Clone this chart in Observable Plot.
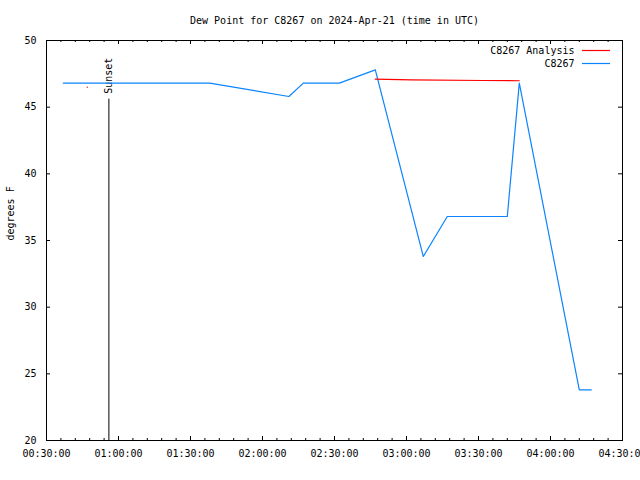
<!DOCTYPE html>
<html>
<head>
<meta charset="utf-8">
<script src="https://cdn.jsdelivr.net/npm/d3@7"></script>
<script src="https://cdn.jsdelivr.net/npm/@observablehq/plot@0.6"></script>
<style>
  html, body { margin: 0; padding: 0; background: #fff; }
  svg { display: block; }
</style>
</head>
<body>
<div id="chart"></div>
<script>
// ---- data ----
const titleText = "Dew Point for C8267 on 2024-Apr-21 (time in UTC)";
const yLabel = "degrees F";
const day = "2024-04-21";

const obsTimes = ["00:37", "01:38", "02:11", "02:17", "02:32", "02:47", "03:07", "03:17", "03:42", "03:47", "04:12", "04:17"];
const obsValues = [46.8, 46.8, 45.8, 46.8, 46.8, 47.8, 33.8, 36.8, 36.8, 46.8, 23.8, 23.8];

const anaTimes = ["02:47", "03:02", "03:32", "03:47"];
const anaValues = [47.1, 47.05, 47.0, 46.98];

const anaDotTimes = ["00:47"];
const anaDotValues = [46.5];

const sunsetTime = ["00:56"];
const sunsetTop = [45.6];
const sunsetTextY = [46.0];

const xDomain = ["00:30", "04:30"];
const yDomain = [20, 50];
const yTicks = [20, 25, 30, 35, 40, 45, 50];
const seriesNames = ["C8267 Analysis", "C8267"];
const seriesColors = ["#ff0000", "#0a84ff"];

// ---- build ----
const t = s => new Date(`${day}T${s}:00Z`);
const obs = obsTimes.map((s, i) => ({time: t(s), value: obsValues[i]}));
const ana = anaTimes.map((s, i) => ({time: t(s), value: anaValues[i]}));
const anaDot = anaDotTimes.map((s, i) => ({time: t(s), value: anaDotValues[i]}));
const sunset = sunsetTime.map((s, i) => ({time: t(s), top: sunsetTop[i], ty: sunsetTextY[i]}));
const x0 = t(xDomain[0]), x1 = t(xDomain[1]);
const majorX = d3.utcMinute.every(30).range(x0, new Date(+x1 + 1));
const minorX = d3.utcMinute.every(6).range(x0, new Date(+x1 + 1));

const W = 640, H = 480, mL = 46, mR = 18, mT = 40, mB = 40;
const fw = W - mL - mR, fh = H - mT - mB;

const svg = Plot.plot({
  width: W, height: H,
  marginLeft: mL, marginRight: mR, marginTop: mT, marginBottom: mB,
  style: {fontFamily: "DejaVu Sans Mono", fontSize: "10px", background: "#fff", color: "#000"},
  x: {type: "utc", domain: [x0, x1], label: null},
  y: {domain: yDomain, label: null},
  marks: [
    // tick marks (inward, gnuplot style)
    Plot.tickX(minorX, {x: d => d, insetTop: fh - 2, stroke: "#000"}),
    Plot.tickX(majorX, {x: d => d, insetTop: fh - 4, stroke: "#000"}),
    Plot.tickX(minorX, {x: d => d, insetBottom: fh - 2, stroke: "#000"}),
    Plot.tickX(majorX, {x: d => d, insetBottom: fh - 4, stroke: "#000"}),
    Plot.tickY(yTicks, {y: d => d, insetRight: fw - 4, stroke: "#000"}),
    Plot.tickY(yTicks, {y: d => d, insetLeft: fw - 4, stroke: "#000"}),
    // tick labels
    Plot.axisX(majorX, {tickSize: 0, tickPadding: 9, tickFormat: d3.utcFormat("%H:%M:%S"), label: null}),
    Plot.axisY(yTicks, {tickSize: 0, tickPadding: 10, tickFormat: d => String(d), label: null}),
    // sunset
    Plot.ruleX(sunset, {x: "time", y1: yDomain[0], y2: "top", stroke: "#000"}),
    Plot.text(sunset, {x: "time", y: "ty", text: () => "Sunset", rotate: -90, textAnchor: "start", lineAnchor: "middle", fill: "#000"}),
    // series
    Plot.line(obs, {x: "time", y: "value", stroke: seriesColors[1], strokeWidth: 1.2}),
    Plot.line(ana, {x: "time", y: "value", stroke: seriesColors[0], strokeWidth: 1.2}),
    Plot.dot(anaDot, {x: "time", y: "value", r: 0.7, fill: seriesColors[0], stroke: null}),
    // frame
    Plot.frame({stroke: "#000"}),
    // title and y label
    Plot.text([titleText], {frameAnchor: "top", dy: -20, text: d => d, lineAnchor: "middle", fill: "#000"}),
    Plot.text([yLabel], {frameAnchor: "left", dx: -36, rotate: -90, text: d => d, lineAnchor: "middle", fill: "#000"}),
    // legend labels
    Plot.text([seriesNames[0]], {frameAnchor: "top-right", dx: -48, dy: 10, text: d => d, textAnchor: "end", lineAnchor: "middle", fill: "#000"}),
    Plot.text([seriesNames[1]], {frameAnchor: "top-right", dx: -48, dy: 23, text: d => d, textAnchor: "end", lineAnchor: "middle", fill: "#000"})
  ]
});

// legend swatches
const sel = d3.select(svg);
[[0, 10], [1, 23]].forEach(([i, dy]) => {
  sel.append("line")
    .attr("x1", W - mR - 40).attr("x2", W - mR - 12)
    .attr("y1", mT + dy + 0.5).attr("y2", mT + dy + 0.5)
    .attr("stroke", seriesColors[i]).attr("stroke-width", 1.2);
});

document.getElementById("chart").appendChild(svg);
</script>
</body>
</html>
